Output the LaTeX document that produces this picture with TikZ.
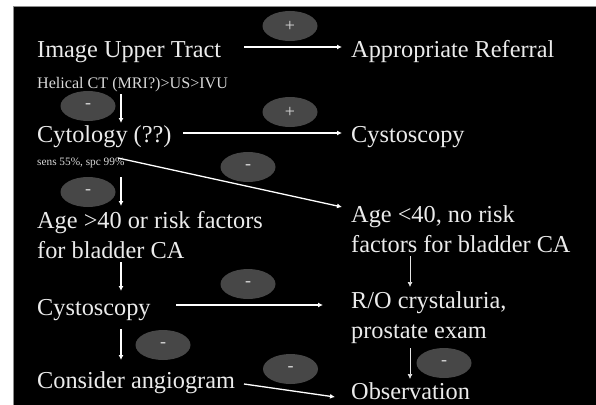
\documentclass[tikz,border=0pt]{standalone}
\usepackage{fontspec}
\setmainfont{Liberation Serif}
\usetikzlibrary{arrows.meta,shapes.geometric}
\tikzset{
  steptext/.style={text=white!92!black,inner sep=0pt,anchor=base west,align=left,font=\fontsize{24.3}{29.5}\selectfont},
  subtext/.style={text=white!85!black,inner sep=0pt,anchor=base west,font=\fontsize{16.1}{18}\selectfont},
  tinytext/.style={text=white!85!black,inner sep=0pt,anchor=base west,font=\fontsize{11.3}{13}\selectfont},
  signoval/.style={ellipse,fill=black!72,text=white!85!black,minimum width=55pt,minimum height=30pt,inner sep=0pt,font=\fontsize{18}{18}\selectfont},
  flowarrow/.style={draw=white,line width=1.3pt,-{Latex[length=5pt,width=5pt]}},
  thinarrow/.style={draw=white!90!black,line width=0.7pt,-{Latex[length=5pt,width=5pt]}}
}
\begin{document}
\begin{tikzpicture}[x=1pt,y=-1pt]
\useasboundingbox (0,0) rectangle (596,404);
\fill[white] (0,0) rectangle (596,404);
\fill[black,draw=black!45] (13.5,6.5) rectangle (597,405);

\node[steptext] (imagetract) at (37,57) {Image Upper Tract};
\node[subtext] (helical) at (37,88) {Helical CT (MRI?)>US>IVU};
\node[steptext] (cytology) at (37,142) {Cytology (??)};
\node[tinytext] (sens) at (37,165) {sens 55\%, spc 99\%};
\node[steptext] (ageover) at (37,258) {Age >40 or risk factors\\for bladder CA};
\node[steptext] (cystoleft) at (37,315) {Cystoscopy};
\node[steptext] (angiogram) at (37,388) {Consider angiogram};

\node[steptext] (referral) at (351,57) {Appropriate Referral};
\node[steptext] (cystoright) at (351,142) {Cystoscopy};
\node[steptext] (ageunder) at (351,252) {Age <40, no risk\\factors for bladder CA};
\node[steptext] (crystal) at (351,338) {R/O crystaluria,\\prostate exam};
\node[steptext] (observation) at (351,399) {Observation};

\node[signoval] (plusa) at (290,26) {+};
\node[signoval] (minusa) at (88,106) {-};
\node[signoval] (plusb) at (290,112) {+};
\node[signoval] (minusb) at (248,167) {-};
\node[signoval] (minusc) at (88,192) {-};
\node[signoval] (minusd) at (248,284) {-};
\node[signoval] (minuse) at (163,345) {-};
\node[signoval] (minusf) at (290.5,369) {-};
\node[signoval] (minusg) at (444,363) {-};

\draw[flowarrow] ([xshift=207pt,yshift=10pt]imagetract.base west) -- ([xshift=-9pt,yshift=10pt]referral.base west);
\draw[flowarrow] ([xshift=146pt,yshift=9pt]cytology.base west) -- ([xshift=-9pt,yshift=9pt]cystoright.base west);
\draw[flowarrow] ([xshift=81pt,yshift=7pt]sens.base west) -- ([xshift=-9pt,yshift=45pt]ageunder.base west);
\draw[flowarrow] ([xshift=84pt,yshift=-6pt]helical.base west) -- ([xshift=84pt,yshift=19pt]cytology.base west);
\draw[flowarrow] ([xshift=84pt,yshift=-12pt]sens.base west) -- ([xshift=84pt,yshift=52pt]ageover.base west);
\draw[flowarrow] ([xshift=84pt,yshift=-4pt]ageover.base west) -- ([xshift=84pt,yshift=24pt]cystoleft.base west);
\draw[flowarrow] ([xshift=84pt,yshift=-14pt]cystoleft.base west) -- ([xshift=84pt,yshift=28pt]angiogram.base west);
\draw[flowarrow] ([xshift=139pt,yshift=10pt]cystoleft.base west) -- ([xshift=-28pt,yshift=33pt]crystal.base west);
\draw[flowarrow] ([xshift=207pt,yshift=4pt]angiogram.base west) -- ([xshift=-16pt,yshift=2pt]observation.base west);
\draw[thinarrow] ([xshift=59pt,yshift=-4pt]ageunder.base west) -- ([xshift=59pt,yshift=51pt]crystal.base west);
\draw[thinarrow] ([xshift=59pt,yshift=-10pt]crystal.base west) -- ([xshift=59pt,yshift=20pt]observation.base west);
\end{tikzpicture}
\end{document}
